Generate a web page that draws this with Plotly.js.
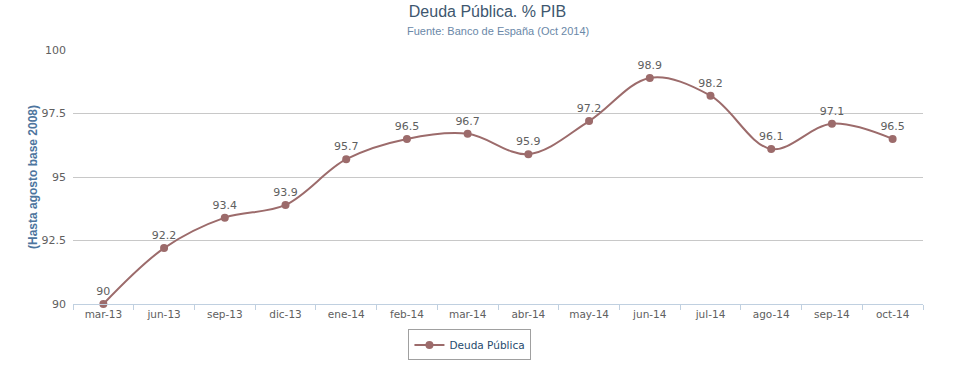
<!DOCTYPE html>
<html><head><meta charset="utf-8">
<script src="https://cdn.plot.ly/plotly-3.0.1.min.js"></script>
<style>html,body{margin:0;padding:0;background:#fff;}</style>
</head><body><div id="chart" style="width:975px;height:390px;"></div>
<script>
const categories = ["mar-13","jun-13","sep-13","dic-13","ene-14","feb-14","mar-14","abr-14","may-14","jun-14","jul-14","ago-14","sep-14","oct-14"];
const deudaPublica = [90, 92.2, 93.4, 93.9, 95.7, 96.5, 96.7, 95.9, 97.2, 98.9, 98.2, 96.1, 97.1, 96.5];
const yTicks = [90, 92.5, 95, 97.5, 100];

const trace = {
  x: categories, y: deudaPublica, type: 'scatter', mode: 'lines+markers+text',
  name: 'Deuda Pública',
  line: {color: '#9C6B6B', width: 2, shape: 'spline', smoothing: 1},
  marker: {color: '#9C6B6B', size: 8},
  text: deudaPublica.map(String), textposition: 'top center',
  textfont: {family: 'DejaVu Sans', size: 11, color: '#606060'},
  cliponaxis: false
};
const layout = {
  width: 975, height: 390,
  margin: {l: 73, r: 52, t: 50, b: 86},
  paper_bgcolor: '#fff', plot_bgcolor: '#fff',
  title: {text: 'Deuda Pública. % PIB', x: 0.5, xanchor: 'center', y: 0.985, yanchor: 'top',
    font: {family: 'Liberation Sans, Arial', size: 16, color: '#3E576F'}},
  annotations: [{text: 'Fuente: Banco de España (Oct 2014)', xref: 'paper', yref: 'paper',
    x: 0.5, y: 1, xanchor: 'center', yanchor: 'bottom', yshift: 11, showarrow: false,
    font: {family: 'Liberation Sans, Arial', size: 11, color: '#6A88A8'}}],
  xaxis: {type: 'category', tickson: 'boundaries', ticks: 'outside', ticklen: 5, tickcolor: '#C0D0E0',
    showline: true, linecolor: '#C0D0E0', linewidth: 1, showgrid: false, zeroline: false,
    tickfont: {family: 'DejaVu Sans', size: 10.5, color: '#606060'}, range: [-0.5, 13.5], fixedrange: true},
  yaxis: {range: [90, 100], tickvals: yTicks, ticktext: yTicks.map(String), showgrid: true,
    gridcolor: '#C8C8C8', zeroline: false, showline: false, ticks: '', ticklabelstandoff: 6,
    tickfont: {family: 'DejaVu Sans', size: 11, color: '#606060'},
    title: {text: '(Hasta agosto base 2008)', standoff: 1,
      font: {family: 'Liberation Sans, Arial', size: 12, color: '#4D759E', weight: 'bold'}}},
  showlegend: true,
  legend: {orientation: 'h', x: 0.467, xanchor: 'center', y: -0.1, yanchor: 'top',
    bordercolor: '#A0A0A0', borderwidth: 1, bgcolor: '#fff', itemwidth: 30,
    font: {family: 'DejaVu Sans', size: 10.5, color: '#274b6d'}}
};
Plotly.newPlot('chart', [trace], layout, {displayModeBar: false});
</script></body></html>
